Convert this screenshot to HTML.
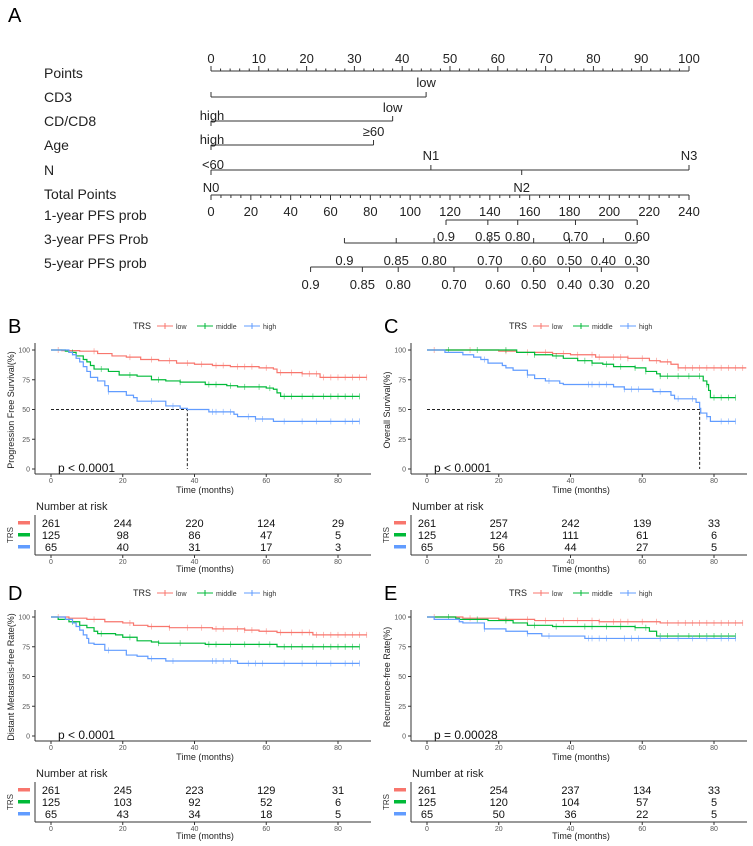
<!DOCTYPE html>
<html><head><meta charset="utf-8">
<style>
html,body{margin:0;padding:0;background:#fff;}
svg{display:block;font-family:"Liberation Sans",sans-serif;}
</style></head>
<body>
<svg id="fig" width="753" height="846" viewBox="0 0 753 846" xmlns="http://www.w3.org/2000/svg">
<text x="8" y="22" font-size="20">A</text>
<g id="nomo"></g>
</svg>
<script>
// ---------- Nomogram data ----------
const nomoRows = ["Points","CD3","CD/CD8","Age","N","Total Points","1-year PFS prob","3-year PFS Prob","5-year PFS prob"];
const nomoRowY = [78,102,126,150,175,199,220,244,268];
const pointsTicks = [0,10,20,30,40,50,60,70,80,90,100];
const totalTicks = [0,20,40,60,80,100,120,140,160,180,200,220,240];
const cd3Points = 45, cd8Points = 38, agePoints = 34;
const nLevels = ["N0","N1","N2","N3"];
const nPoints = [0,46,65,100];
const prob1Labels = ["0.9","0.85","0.80","0.70","0.60"];
const prob1Total = [118,139,154,183,214];
const prob3Labels = ["0.9","0.85","0.80","0.70","0.60","0.50","0.40","0.30"];
const prob3Total = [67,93,112,140,162,180,197,214];
const prob5Labels = ["0.9","0.85","0.80","0.70","0.60","0.50","0.40","0.30","0.20"];
const prob5Total = [50,76,94,122,144,162,180,196,214];

const NS="http://www.w3.org/2000/svg";
function mk(parent,tag,attrs,text){const e=document.createElementNS(NS,tag);for(const k in attrs)e.setAttribute(k,attrs[k]);if(text!==undefined)e.textContent=text;parent.appendChild(e);return e;}
const P0=211,P1=689;
const px=p=>P0+(P1-P0)*p/100;
const tx=t=>P0+(P1-P0)*t/240;
const nomo=document.getElementById('nomo');
const lc="#333";
nomoRows.forEach((r,i)=>{
  const t=mk(nomo,'text',{x:44,y:nomoRowY[i],'font-size':14,fill:'#222'},r);
  
  
});
mk(nomo,'line',{x1:P0,x2:P1,y1:71,y2:71,stroke:lc,'stroke-width':1});
for(let p=0;p<=100;p+=2){mk(nomo,'line',{x1:px(p),x2:px(p),y1:71,y2:p%10==0?66:68.5,stroke:lc,'stroke-width':1});}
pointsTicks.forEach(p=>{const t=mk(nomo,'text',{x:px(p),y:63,'font-size':13,'text-anchor':'middle',fill:'#222'},p);
  });
function seg(y,a,b){mk(nomo,'line',{x1:a,x2:b,y1:y,y2:y,stroke:lc,'stroke-width':1});}
function tick(x,y,up){mk(nomo,'line',{x1:x,x2:x,y1:y,y2:up?y-5:y+5,stroke:lc,'stroke-width':1});}
function lab(x,y,s,name){const t=mk(nomo,'text',{x:x,y:y,'font-size':13,'text-anchor':'middle',fill:'#222'},s);
  }
seg(97,px(0),px(cd3Points));tick(px(0),97,true);tick(px(cd3Points),97,true);lab(px(cd3Points),87,"low","cd3-low-label");
seg(121,px(0),px(cd8Points));tick(px(0),121,false);tick(px(cd8Points),121,true);lab(px(0)+1,120,"high","cd8-high-label");lab(px(cd8Points),112,"low","cd8-low-label");
seg(145,px(0),px(agePoints));tick(px(0),145,false);tick(px(agePoints),145,true);lab(px(0)+1,144,"high","age-high-label");lab(px(agePoints),136,"≥60","age-60-label");
lab(px(0)+2,169,"<60","age-lt60-label");
seg(170,px(0),px(100));
nPoints.forEach((p,i)=>{const up=(i==1||i==3);tick(px(p),170,up);
  if(up)lab(px(p),160,nLevels[i],"n-level-label");
  else lab(px(p),192,nLevels[i],"n-level-label");});
mk(nomo,'line',{x1:P0,x2:P1,y1:195,y2:195,stroke:lc,'stroke-width':1});
for(let t=0;t<=240;t+=5){mk(nomo,'line',{x1:tx(t),x2:tx(t),y1:195,y2:t%20==0?200:198,stroke:lc,'stroke-width':1});}
totalTicks.forEach(t=>lab(tx(t),216,t,"total-points-tick-label"));
function probScale(y,labels,tot,below,ly){
  seg(y,tx(tot[0]),tx(tot[tot.length-1]));
  tot.forEach((t,i)=>{tick(tx(t),y,!below);lab(tx(t),ly,labels[i],"prob-tick-label");});
}
probScale(220,prob1Labels,prob1Total,true,241);
probScale(243,prob3Labels,prob3Total,false,265);
probScale(267,prob5Labels,prob5Total,true,289);

// ---------- KM data ----------
const riskTimes=[0,20,40,60,80];
const xTicks=[0,20,40,60,80];
const yTicks=[0,25,50,75,100];
const bLowT=[0,3,8,13,17,21,25,30,35,40,45,50,58,62,63,70,75], bLowS=[100,99.5,99,97,95,94,92,91,89,88,87,86,85,84,81,80,77];
const bMidT=[0,4,5,7,9,10,11,12,16,19,24,28,32,36,43,49,52,60,62,63,64], bMidS=[100,99,98,95,92,90,87,84,82,79,78,75,74,73,71,70,69,68,67,64,61];
const bHighT=[0,5,6,7,8,9,10,11,13,15,16,21,23,24,32,36,38,44,51,52,57,62], bHighS=[100,98,96,93,90,86,82,77,74,70,65,62,60,57,53,51,50,48,46,44,42,40];
const cLowT=[0,20,25,35,40,47,56,62,65,68,70], cLowS=[100,99,98,97,96,94,93,91,90,88,85];
const cMidT=[0,25,30,35,38,42,46,49,52,58,61,64,65,77,78,78.5,79], cMidS=[100,98,96,95,93,91,89,88,86,85,82,80,78,74,71,66,60];
const cHighT=[0,5,10,13,15,17,21,22,24,28,30,33,37,38,52,55,63,68,69,75,76,76.3,78,79], cHighS=[100,98,96,94,92,89,87,85,83,79,76,74,72,71,69,67,65,62,59,56,51,47,44,40];
const dLowT=[0,5,10,15,20,23,27,33,45,54,58,63,73], dLowS=[100,99,98,96,95,93,92,91,90,89,88,87,85];
const dMidT=[0,2,5,8,10,12,13,18,20,24,28,30,43,63], dMidS=[100,98,96,93,91,88,86,85,83,80,79,78,77,75];
const dHighT=[0,4,6,7,8,9,10,10.5,12,15,21,24,27,32,52], dHighS=[100,98,95,92,89,85,82,78,77,72,68,67,65,63,61];
const eLowT=[0,10,20,30,48,65], eLowS=[100,99,98,97,96,95];
const eMidT=[0,8,9,17,24,28,35,58,62,64], eMidS=[100,99,98,97,95,93,92,91,88,84];
const eHighT=[0,2,9,10,16,22,28,32,44], eHighS=[100,98,96,95,90,88,86,84,82];
const censLow=[2,12,22,28,33,38,42,46,48,52,54,56,60,64,67,70,72,74,76,78,80,82,84,86,88];
const censMid=[6,14,22,30,36,44,46,50,54,58,61,65,67,70,73,76,78,80,82,84,86];
const censHigh=[16,28,34,45,46,48,50,55,57,59,65,70,74,78,82,84,86];
const bRisk=[[261,244,220,124,29],[125,98,86,47,5],[65,40,31,17,3]];
const cRisk=[[261,257,242,139,33],[125,124,111,61,6],[65,56,44,27,5]];
const dRisk=[[261,245,223,129,31],[125,103,92,52,6],[65,43,34,18,5]];
const eRisk=[[261,254,237,134,33],[125,120,104,57,5],[65,50,36,22,5]];

const COLORS=["#F8766D","#00BA38","#619CFF"];
const GROUPS=["low","middle","high"];
const svg=document.getElementById('fig');

function panel(cfg){
  const g=mk(svg,'g',{transform:`translate(${cfg.ox},${cfg.oy})`});
  
  
  const X=t=>51+(338-51)*t/80;
  const Y=s=>469-(469-350)*s/100;
  const L=mk(g,'text',{x:8,y:333,'font-size':20},cfg.letter);
  
  const lg=mk(g,'g',{});
  
  mk(lg,'text',{x:133,y:329,'font-size':9,fill:'#222'},"TRS");
  const lx=[157,197,244];
  GROUPS.forEach((n,i)=>{
    const e=mk(lg,'g',{});
    
    
    mk(e,'line',{x1:lx[i],x2:lx[i]+16,y1:326,y2:326,stroke:COLORS[i],'stroke-width':1});
    mk(e,'line',{x1:lx[i]+8,x2:lx[i]+8,y1:323,y2:329,stroke:COLORS[i],'stroke-width':1});
    mk(e,'text',{x:lx[i]+19,y:329,'font-size':7,fill:'#333'},n);
  });
  mk(g,'line',{x1:35,x2:35,y1:343,y2:474,stroke:'#333','stroke-width':1});
  mk(g,'line',{x1:35,x2:371,y1:474,y2:474,stroke:'#333','stroke-width':1});
  yTicks.forEach(v=>{mk(g,'line',{x1:32,x2:35,y1:Y(v),y2:Y(v),stroke:'#333'});
    const t=mk(g,'text',{x:30,y:Y(v)+2.5,'font-size':7,'text-anchor':'end',fill:'#555'},v);
    });
  xTicks.forEach(v=>{mk(g,'line',{x1:X(v),x2:X(v),y1:474,y2:477,stroke:'#333'});
    const t=mk(g,'text',{x:X(v),y:483,'font-size':7,'text-anchor':'middle',fill:'#555'},v);
    });
  const xt=mk(g,'text',{x:205,y:493,'font-size':9,'text-anchor':'middle',fill:'#222'},"Time (months)");
  
  const yt=mk(g,'text',{x:0,y:0,'font-size':9,'text-anchor':'middle',fill:'#222',transform:'translate(14,410) rotate(-90)'},cfg.ylab);
  
  if(cfg.median!==null){
    mk(g,'path',{d:`M${X(0)},${Y(50)}H${X(cfg.median)}V${Y(0)}`,fill:'none',stroke:'#222','stroke-dasharray':'3,2','stroke-width':1});
  }
  cfg.series.forEach((s,i)=>{
    let d=`M${X(s.t[0])},${Y(s.s[0])}`;
    for(let k=1;k<s.t.length;k++){d+=`H${X(s.t[k])}V${Y(s.s[k])}`;}
    d+=`H${X(s.end)}`;
    const p=mk(g,'path',{d:d,fill:'none',stroke:COLORS[i],'stroke-width':1.2});
    
    
    s.c.filter(c=>c<=s.end).forEach(c=>{
      let v=s.s[0];for(let k=0;k<s.t.length;k++){if(s.t[k]<=c)v=s.s[k];}
      mk(g,'line',{x1:X(c),x2:X(c),y1:Y(v)-3,y2:Y(v)+3,stroke:COLORS[i],'stroke-width':0.7,opacity:0.7});
    });
  });
  const pt=mk(g,'text',{x:58,y:472,'font-size':12,fill:'#111'},cfg.p);
  
  const rt=mk(g,'g',{});
  
  mk(rt,'text',{x:36,y:510,'font-size':11,fill:'#222'},"Number at risk");
  mk(rt,'line',{x1:35,x2:35,y1:515,y2:555,stroke:'#333'});
  mk(rt,'line',{x1:35,x2:371,y1:555,y2:555,stroke:'#333'});
  mk(rt,'text',{x:0,y:0,'font-size':8,'text-anchor':'middle',fill:'#333',transform:'translate(13,535) rotate(-90)'},"TRS");
  const ry=[523,535,547];
  cfg.risk.forEach((row,i)=>{
    mk(rt,'rect',{x:18,y:ry[i]-2,width:12,height:3.5,fill:COLORS[i]});
    row.forEach((v,k)=>{const t=mk(rt,'text',{x:X(riskTimes[k]),y:ry[i]+4,'font-size':11,'text-anchor':'middle',fill:'#111'},v);
      });
  });
  xTicks.forEach(v=>{mk(rt,'line',{x1:X(v),x2:X(v),y1:555,y2:558,stroke:'#333'});
    mk(rt,'text',{x:X(v),y:564,'font-size':7,'text-anchor':'middle',fill:'#555'},v);});
  mk(rt,'text',{x:205,y:572,'font-size':9,'text-anchor':'middle',fill:'#222'},"Time (months)");
}
function S(t,s,end,c){return {t:t,s:s,end:end,c:c};}
panel({letter:"B",ox:0,oy:0,ylab:"Progression Free Survival(%)",median:38,p:"p < 0.0001",risk:bRisk,
  series:[S(bLowT,bLowS,88,censLow),S(bMidT,bMidS,86,censMid),S(bHighT,bHighS,86,censHigh)]});
panel({letter:"C",ox:376,oy:0,ylab:"Overall Survival(%)",median:76,p:"p < 0.0001",risk:cRisk,
  series:[S(cLowT,cLowS,89,censLow),S(cMidT,cMidS,86,censMid),S(cHighT,cHighS,86,censHigh)]});
panel({letter:"D",ox:0,oy:267,ylab:"Distant Metastasis-free Rate(%)",median:null,p:"p < 0.0001",risk:dRisk,
  series:[S(dLowT,dLowS,88,censLow),S(dMidT,dMidS,86,censMid),S(dHighT,dHighS,86,censHigh)]});
panel({letter:"E",ox:376,oy:267,ylab:"Recurrence-free Rate(%)",median:null,p:"p = 0.00028",risk:eRisk,
  series:[S(eLowT,eLowS,88,censLow),S(eMidT,eMidS,86,censMid),S(eHighT,eHighS,86,censHigh)]});
</script>
</body></html>
